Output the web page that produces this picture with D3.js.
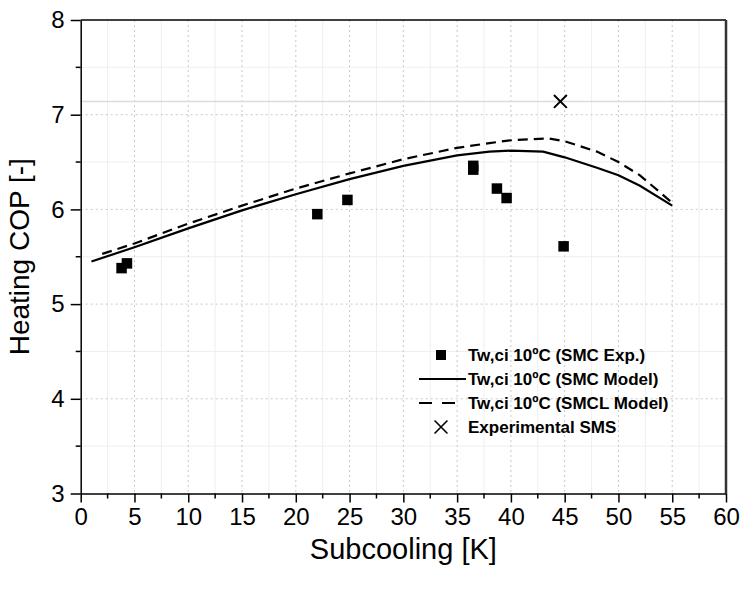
<!DOCTYPE html>
<html>
<head>
<meta charset="utf-8">
<script src="https://cdn.jsdelivr.net/npm/d3@7"></script>
<style>
  body { margin: 0; background: #fff; }
  svg { font-family: "Liberation Sans", Arial, sans-serif; }
</style>
</head>
<body>
<div id="chart"></div>
<script>
// experimental points (SMC Exp.)
var expX = [3.8, 4.3, 22.0, 24.8, 36.5, 36.5, 38.7, 39.6, 44.9];
var expY = [5.38, 5.43, 5.95, 6.10, 6.42, 6.46, 6.22, 6.12, 5.61];

// SMC model (solid)
var smcX = [1, 5, 10, 15, 20, 25, 30, 35, 38, 40, 43, 45, 48, 50, 52, 55];
var smcY = [5.45, 5.60, 5.80, 5.99, 6.16, 6.32, 6.46, 6.57, 6.61, 6.62, 6.61, 6.55, 6.44, 6.36, 6.25, 6.04];

// SMCL model (dashed)
var smclX = [2, 5, 10, 15, 20, 25, 30, 35, 38, 40, 43.5, 45, 48, 50, 52, 55];
var smclY = [5.53, 5.64, 5.85, 6.04, 6.22, 6.38, 6.53, 6.65, 6.70, 6.73, 6.75, 6.72, 6.61, 6.50, 6.36, 6.07];

// experimental SMS
var smsX = [44.6];
var smsY = [7.14];

var xTicks = [0, 5, 10, 15, 20, 25, 30, 35, 40, 45, 50, 55, 60];
var yTicks = [3, 4, 5, 6, 7, 8];
var legendLabels = ["Tw,ci 10ºC (SMC Exp.)", "Tw,ci 10ºC (SMC Model)", "Tw,ci 10ºC (SMCL Model)", "Experimental SMS"];

const W = 742, H = 590;
const margin = {top: 20, right: 16, bottom: 96.5, left: 80.7},
      width = W - margin.left - margin.right,
      height = H - margin.top - margin.bottom;

var svg = d3.select("#chart").append("svg")
  .attr("width", W).attr("height", H)
  .append("g")
  .attr("transform", "translate(" + margin.left + "," + margin.top + ")");

var x = d3.scaleLinear().domain([0, 60]).range([0, width]);
var y = d3.scaleLinear().domain([3, 8]).range([height, 0]);

var minorX = d3.range(2.5, 60, 5);
var minorY = d3.range(3.5, 8, 1);

// minor grid (faint)
svg.append("g").selectAll("line").data(minorX).enter().append("line")
  .attr("x1", d => x(d)).attr("x2", d => x(d)).attr("y1", 0).attr("y2", height)
  .style("stroke", "#efefef").style("stroke-width", 1);
svg.append("g").selectAll("line").data(minorY).enter().append("line")
  .attr("y1", d => y(d)).attr("y2", d => y(d)).attr("x1", 0).attr("x2", width)
  .style("stroke", "#efefef").style("stroke-width", 1);

// major grid (dotted)
svg.append("g").selectAll("line").data(xTicks.slice(1, -1)).enter().append("line")
  .attr("x1", d => x(d)).attr("x2", d => x(d)).attr("y1", 0).attr("y2", height)
  .style("stroke", "#c8c8c8").style("stroke-width", 1).style("stroke-dasharray", "2,3");
svg.append("g").selectAll("line").data(yTicks.slice(1, -1)).enter().append("line")
  .attr("y1", d => y(d)).attr("y2", d => y(d)).attr("x1", 0).attr("x2", width)
  .style("stroke", "#c8c8c8").style("stroke-width", 1).style("stroke-dasharray", "2,3");

// light reference line through SMS value
svg.append("line")
  .attr("x1", 0).attr("x2", width).attr("y1", y(smsY[0])).attr("y2", y(smsY[0]))
  .style("stroke", "#dcdcdc").style("stroke-width", 1.5);

// frame top/right
svg.append("line").attr("x1", 0).attr("x2", width).attr("y1", 0).attr("y2", 0)
  .style("stroke", "#000").style("stroke-width", 1.5);
svg.append("line").attr("x1", width).attr("x2", width).attr("y1", 0).attr("y2", height)
  .style("stroke", "#333").style("stroke-width", 2.5);

// axes
var xAxis = d3.axisBottom(x).tickValues(xTicks).tickSize(9).tickPadding(5)
  .tickSizeOuter(0).tickFormat(d3.format("d"));
var yAxis = d3.axisLeft(y).tickValues(yTicks).tickSize(10).tickPadding(6)
  .tickSizeOuter(0).tickFormat(d3.format("d"));

var gx = svg.append("g").attr("transform", "translate(0," + height + ")").call(xAxis);
var gy = svg.append("g").call(yAxis);
[gx, gy].forEach(function(g) {
  g.selectAll("path, line").style("stroke", "#000").style("stroke-width", 1.5);
  g.selectAll("text").style("font-size", "24px").style("fill", "#000");
});

// minor ticks
svg.append("g").selectAll("line").data(minorX).enter().append("line")
  .attr("x1", d => x(d)).attr("x2", d => x(d)).attr("y1", height).attr("y2", height + 5)
  .style("stroke", "#000").style("stroke-width", 1.5);
svg.append("g").selectAll("line").data(minorY).enter().append("line")
  .attr("y1", d => y(d)).attr("y2", d => y(d)).attr("x1", 0).attr("x2", -5)
  .style("stroke", "#000").style("stroke-width", 1.5);

// axis titles
svg.append("text")
  .attr("x", width / 2).attr("y", height + 65)
  .style("text-anchor", "middle").style("font-size", "29px")
  .text("Subcooling [K]");
svg.append("text")
  .attr("transform", "translate(" + (-52) + "," + (height / 2) + ") rotate(-90)")
  .style("text-anchor", "middle").style("font-size", "28px")
  .text("Heating COP [-]");

var line = d3.line();

svg.append("path")
  .attr("d", line(smcX.map((d, i) => [x(d), y(smcY[i])])))
  .style("fill", "none").style("stroke", "#000").style("stroke-width", 2.2);

svg.append("path")
  .attr("d", line(smclX.map((d, i) => [x(d), y(smclY[i])])))
  .style("fill", "none").style("stroke", "#000").style("stroke-width", 2.2)
  .style("stroke-dasharray", "10,6");

var sq = 10.5;
svg.append("g").selectAll("rect").data(expX).enter().append("rect")
  .attr("x", (d, i) => x(d) - sq / 2)
  .attr("y", (d, i) => y(expY[i]) - sq / 2)
  .attr("width", sq).attr("height", sq)
  .style("fill", "#000");

var cross = d3.symbol().type(d3.symbolX).size(110);
svg.append("g").selectAll("path").data(smsX).enter().append("path")
  .attr("transform", (d, i) => "translate(" + x(d) + "," + y(smsY[i]) + ")")
  .attr("d", cross)
  .style("fill", "none").style("stroke", "#000").style("stroke-width", 2);

// legend
var lg = svg.append("g").attr("transform", "translate(" + (419 - margin.left) + "," + (355 - margin.top) + ")");
var rowH = 24;
lg.append("rect").attr("x", 22 - 5).attr("y", -5).attr("width", 10).attr("height", 10).style("fill", "#000");
lg.append("line").attr("x1", 0).attr("x2", 47).attr("y1", rowH).attr("y2", rowH)
  .style("stroke", "#000").style("stroke-width", 2.2);
lg.append("line").attr("x1", 0).attr("x2", 44).attr("y1", rowH * 2).attr("y2", rowH * 2)
  .style("stroke", "#000").style("stroke-width", 2.2).style("stroke-dasharray", "13,10");
lg.append("path").attr("transform", "translate(22," + rowH * 3 + ")").attr("d", cross)
  .style("fill", "none").style("stroke", "#000").style("stroke-width", 1.6);
lg.selectAll("text").data(legendLabels).enter().append("text")
  .attr("x", 49).attr("y", (d, i) => i * rowH)
  .attr("dy", "0.35em")
  .style("font-size", "17px").style("font-weight", "bold")
  .text(d => d);
</script>
</body>
</html>
